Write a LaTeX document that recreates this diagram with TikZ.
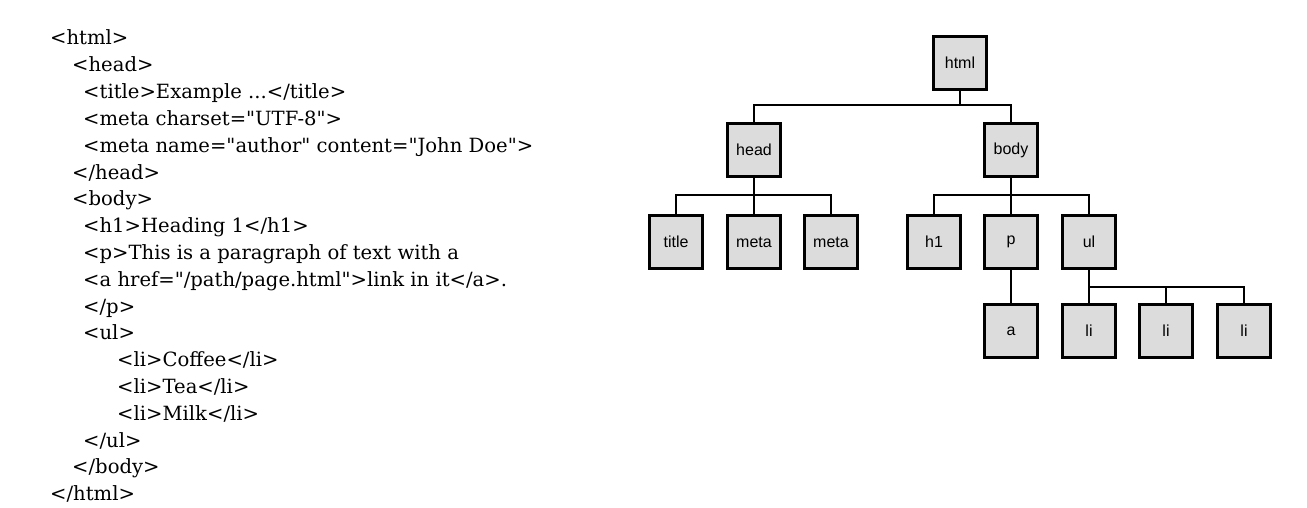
\documentclass[tikz,border=0pt]{standalone}
\usepackage{fontspec}
\setmainfont{DejaVu Serif}[Ligatures=TeXOff]
\newfontfamily\boxfont{Liberation Sans}
\definecolor{boxgray}{HTML}{DCDCDC}
\begin{document}
\begin{tikzpicture}[x=1pt,y=-1pt,
  codeline/.style={anchor=base west,inner sep=0pt,font=\fontsize{19.6}{21}\selectfont},
  tagbox/.style={draw=black,fill=boxgray,line width=3.1pt,minimum width=52.5pt,minimum height=52.5pt,inner sep=0pt,font=\boxfont\fontsize{16}{18}\selectfont},
  link/.style={line width=2.7pt,black}]
\useasboundingbox (0,0) rectangle (1307,508);
% code text
\node[codeline] (l1) at (50,45) {<html>};
\node[codeline] (l2) at (72,71.8) {<head>};
\node[codeline] (l3) at (83,98.6) {<title>Example ...</title>};
\node[codeline] (l4) at (83,125.4) {<meta charset="UTF-8">};
\node[codeline] (l5) at (83,152.2) {<meta name="author" content="John Doe">};
\node[codeline] (l6) at (72,179) {</head>};
\node[codeline] (l7) at (72,205.8) {<body>};
\node[codeline] (l8) at (83,232.6) {<h1>Heading 1</h1>};
\node[codeline] (l9) at (83,259.4) {<p>This is a paragraph of text with a};
\node[codeline] (l10) at (83,286.2) {<a href="/path/page.html">link in it</a>.};
\node[codeline] (l11) at (83,313) {</p>};
\node[codeline] (l12) at (83,339.8) {<ul>};
\node[codeline] (l13) at (117,366.6) {<li>Coffee</li>};
\node[codeline] (l14) at (117,393.4) {<li>Tea</li>};
\node[codeline] (l15) at (117,420.2) {<li>Milk</li>};
\node[codeline] (l16) at (83,447) {</ul>};
\node[codeline] (l17) at (72,473.8) {</body>};
\node[codeline] (l18) at (50,500.6) {</html>};
% tree
\node[tagbox] (html) at (960,63) {html};
\node[tagbox] (head) at (754,150) {head};
\node[tagbox] (body) at (1011,150) {body};
\node[tagbox] (title) at (676,242) {title};
\node[tagbox] (meta1) at (754,242) {meta};
\node[tagbox] (meta2) at (831,242) {meta};
\node[tagbox] (h1) at (934,242) {h1};
\node[tagbox] (p) at (1011,242) {p};
\node[tagbox] (ul) at (1089,242) {ul};
\node[tagbox] (a) at (1011,331) {a};
\node[tagbox] (li1) at (1089,331) {li};
\node[tagbox] (li2) at (1166,331) {li};
\node[tagbox] (li3) at (1244,331) {li};
\coordinate (jhtml) at (960,105);
\coordinate (jhead) at (754,195);
\coordinate (jbody) at (1011,195);
\coordinate (jul) at (1089,287);
\draw[link] (html.south) -- (jhtml);
\draw[link] (head.north) |- (jhtml) -| (body.north);
\draw[link] (head.south) -- (meta1.north);
\draw[link] (title.north) |- (jhead) -| (meta2.north);
\draw[link] (body.south) -- (p.north);
\draw[link] (h1.north) |- (jbody) -| (ul.north);
\draw[link] (p.south) -- (a.north);
\draw[link] (ul.south) -- (li1.north);
\draw[link] (jul) -| (li2.north);
\draw[link] (jul) -| (li3.north);
\end{tikzpicture}
\end{document}
